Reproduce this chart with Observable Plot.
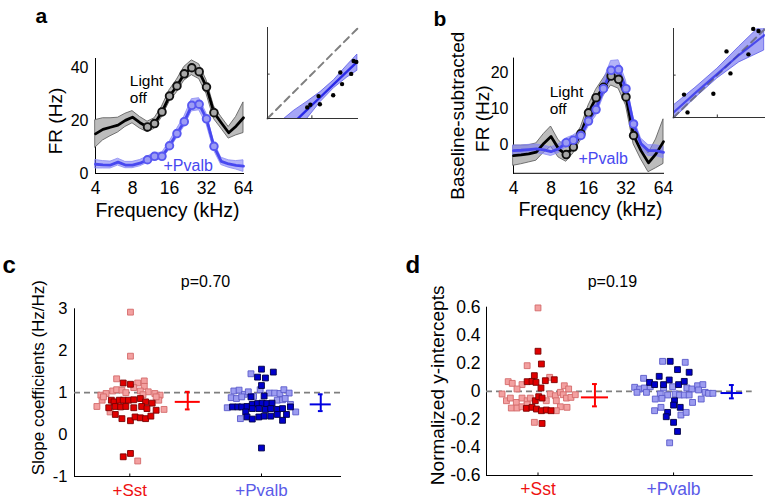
<!DOCTYPE html>
<html><head><meta charset="utf-8">
<script src="https://cdn.jsdelivr.net/npm/d3@7"></script>
<script src="https://cdn.jsdelivr.net/npm/@observablehq/plot@0.6"></script>
<style>
body{margin:0;background:#fff;}
#wrap{position:relative;width:765px;height:502px;overflow:hidden;background:#fff;}
.p{position:absolute;}
.big-x [aria-label="x-axis tick label"] text, .big-x [aria-label="x-axis"] text {font-size:17.5px;}
</style></head><body><div id="wrap"></div>
<script>
// ---------- data ----------
const freqs = [4, 4.6, 5.3, 6.1, 7.0, 8.0, 9.2, 10.6, 12.1, 13.9, 16, 18.4, 21.1, 24.3, 27.9, 32, 36.8, 42.2, 48.5, 55.7, 64];
const freqTicks = [4, 8, 16, 32, 64];
const markerFrom = 7, markerTo = 16;

// panel a (FR, Hz)
const aOff   = [15.0, 16.7, 17.5, 18.3, 20.1, 21.3, 19.2, 17.6, 18.9, 23.3, 29.3, 33.1, 37.7, 40.0, 38.5, 32.7, 23.0, 19.2, 15.4, 17.9, 21.1];
const aOffSe = [5.2, 4.2, 3.4, 2.8, 2.5, 2.3, 2.2, 2.0, 2.0, 2.0, 2.2, 2.4, 2.6, 2.8, 2.8, 2.6, 2.4, 2.2, 2.2, 3.5, 5.8];
const aPv    = [3.5, 3.3, 3.2, 4.3, 3.2, 3.2, 3.9, 5.2, 6.5, 6.5, 10.5, 15.1, 19.6, 25.8, 26.2, 20.7, 10.3, 4.6, 3.6, 3.1, 2.8];
const aPvSe  = [1.6, 1.4, 1.3, 1.3, 1.2, 1.2, 1.2, 1.2, 1.3, 1.3, 1.5, 1.7, 1.9, 2.3, 2.3, 2.0, 1.6, 1.4, 1.4, 1.6, 2.2];

// panel b (baseline-subtracted FR, Hz)
const bOff   = [-3.1, -2.9, -2.6, -2.1, 0.3, 2.2, -1.2, -2.8, -0.7, 3.0, 8.8, 13.0, 15.9, 19.0, 18.1, 13.2, 2.5, -1.7, -5.1, -2.6, 0.8];
const bOffSe = [2.8, 2.6, 2.4, 2.4, 2.6, 2.8, 2.4, 2.0, 1.8, 1.8, 2.0, 2.2, 2.4, 2.6, 2.6, 2.4, 2.4, 2.4, 2.6, 4.0, 6.2];
const bPv    = [-1.7, -1.6, -1.4, -1.2, -1.5, -2.0, -1.2, 0.5, 1.2, 2.5, 6.5, 9.7, 15.5, 20.6, 20.8, 15.5, 5.7, 0.2, -1.7, -1.7, -2.2];
const bPvSe  = [1.4, 1.3, 1.3, 1.2, 1.2, 1.2, 1.2, 1.2, 1.3, 1.4, 1.6, 1.8, 2.2, 2.6, 2.6, 2.2, 1.8, 1.5, 1.5, 1.5, 1.6];

// inset a: light off (x) vs +Pvalb (y)
const insAx = [17.9, 19.3, 23.0, 23.6, 29.6, 32.8, 33.6, 37.7, 38.8, 40.0];
const insAy = [5.0, 6.2, 10.1, 6.4, 10.5, 20.7, 15.5, 20.1, 25.9, 25.5];
const insAfitX  = [7, 12, 18, 24, 30, 36, 40.5];
const insAfitY  = [-6.5, -1.7, 4.1, 9.8, 15.6, 21.3, 25.6];
const insAfitLo = [-14, -7, 0.0, 7.5, 13.7, 18.5, 21.5];
const insAfitHi = [-0.6, 3.5, 7.6, 12.0, 17.3, 24.0, 28.8];
const insAdomain = [0, 41];
const insAtick = [20];

// inset b
const insBx = [2.4, 3.2, 9.1, 12.1, 13.0, 17.1, 18.2, 19.4];
const insBy = [5.4, 1.2, 5.6, 15.6, 10.4, 14.9, 20.9, 20.4];
const insBfitX  = [0, 5, 10, 15, 20.7];
const insBfitY  = [1.2, 5.8, 10.3, 14.8, 19.4];
const insBfitLo = [-0.4, 4.6, 9.2, 13.0, 15.8];
const insBfitHi = [2.8, 7.0, 11.5, 16.7, 22.4];
const insBdomain = [0, 21];
const insBtick = [10];

// panels c, d: categories
const categories = ["+Sst", "+Pvalb"];
const catPos = [1, 2];
const catColors = ["#ee1111", "#5a5ae8"];

// panel c: slope coefficients [jitter, value]
const cSstLight = [[0.005,2.92],[0.005,1.87],[-0.10,1.33],[0.06,1.23],[0.11,1.28],[0.11,1.15],[-0.22,0.94],[-0.18,0.98],[-0.13,1.04],[-0.10,1.07],[-0.06,1.06],[0.03,1.12],[0.08,1.04],[0.14,1.02],[0.19,0.98],[0.23,0.94],[-0.25,0.67],[-0.21,0.82],[0.22,0.82],[0.26,0.60],[-0.15,0.54],[0.06,-0.63],[-0.20,0.90],[0.20,0.90],[-0.03,1.00],[0.10,0.95]];
const cSstDark = [[-0.05,1.23],[0.005,1.20],[-0.14,0.82],[-0.12,0.78],[-0.08,0.82],[-0.05,0.82],[-0.01,0.82],[0.03,0.83],[0.08,0.86],[0.12,0.78],[0.17,0.75],[-0.16,0.64],[-0.11,0.67],[-0.07,0.66],[-0.03,0.67],[0.03,0.64],[0.09,0.67],[0.13,0.62],[0.20,0.58],[-0.11,0.48],[-0.06,0.38],[0.005,0.33],[0.04,0.42],[0.08,0.40],[0.12,0.38],[0.16,0.44],[-0.05,-0.53],[0.005,-0.45]];
const cPvLight = [[-0.08,1.45],[-0.21,1.04],[-0.17,1.06],[-0.13,0.96],[-0.10,1.02],[-0.01,1.07],[0.06,0.99],[0.10,0.99],[0.14,0.98],[0.17,1.07],[0.21,0.99],[-0.23,0.88],[-0.19,0.86],[-0.15,0.90],[-0.06,0.91],[0.12,0.82],[0.16,0.83],[0.18,0.86],[0.22,0.72],[-0.26,0.64],[0.26,0.54],[-0.16,0.38]];
const cPvDark = [[0,1.56],[-0.03,1.37],[0.03,1.35],[0.09,1.49],[0,1.17],[0.02,0.92],[-0.08,0.90],[-0.22,0.66],[-0.18,0.66],[-0.15,0.66],[-0.11,0.67],[-0.07,0.72],[-0.03,0.74],[0.005,0.75],[0.04,0.74],[0.08,0.75],[-0.12,0.54],[-0.07,0.62],[-0.02,0.62],[0.03,0.60],[0.07,0.62],[0.12,0.60],[0.16,0.62],[0.22,0.66],[-0.11,0.42],[-0.07,0.37],[-0.02,0.42],[0.02,0.44],[0.07,0.44],[0.12,0.48],[0.16,0.34],[0.19,0.48],[0,-0.32]];
const cErr = [{cat:0, off:0.44, half:0.095, mean:0.78, lo:0.60, hi:1.02},{cat:1, off:0.45, half:0.08, mean:0.72, lo:0.56, hi:0.96}];
const cTicks = [-1, 0, 1, 2, 3];
const cRef = [1];

// panel d: normalized y-intercepts [jitter, value]
const dSstLight = [[0,0.595],[-0.08,0.183],[0.086,0.10],[-0.22,0.069],[-0.19,0.057],[-0.118,0.048],[-0.155,0.017],[0.194,0.040],[0.226,0.017],[-0.265,-0.019],[-0.233,-0.067],[-0.204,-0.048],[-0.16,-0.079],[-0.118,-0.048],[-0.08,-0.067],[-0.057,-0.048],[0.061,-0.067],[0.09,-0.019],[0.128,-0.031],[0.135,-0.067],[0.165,-0.007],[0.186,-0.024],[0.21,-0.048],[0.243,-0.043],[0.275,-0.024],[0.165,-0.11],[0.214,-0.114],[-0.197,-0.119],[-0.155,-0.119],[-0.118,-0.11],[-0.08,-0.095],[0.135,-0.138],[-0.027,-0.221]];
const dSstDark = [[0,0.286],[0.025,0.195],[-0.027,0.112],[0.12,0.083],[0.054,0.076],[-0.08,0.069],[-0.044,0.071],[-0.015,0.064],[0.022,0.024],[-0.02,-0.067],[0.005,-0.038],[0.03,-0.048],[-0.086,-0.121],[-0.044,-0.114],[-0.012,-0.126],[0.025,-0.138],[0.061,-0.133],[0.096,-0.138],[0.03,-0.229]];
const dPvLight = [[-0.081,0.214],[0.086,0.207],[-0.221,0.093],[-0.287,0.029],[-0.25,0.017],[-0.216,0.024],[-0.27,-0.007],[-0.2,-0.007],[-0.172,0.033],[-0.074,0.024],[-0.007,0.033],[0.098,0.024],[0.135,0.017],[0.177,0.040],[0.216,0.048],[0.184,0.01],[0.233,-0.007],[0.258,-0.014],[0.29,-0.014],[-0.098,-0.019],[-0.044,-0.026],[0.012,-0.019],[0.044,-0.026],[0.079,-0.026],[0.115,-0.026],[-0.135,-0.055],[-0.086,-0.05],[0.204,-0.055],[0.14,-0.079],[-0.14,-0.138],[-0.093,-0.114],[0.054,-0.169],[0.093,-0.15],[-0.029,-0.367]];
const dPvDark = [[-0.025,0.214],[0.029,0.155],[0.115,0.136],[-0.106,0.107],[-0.032,0.081],[-0.177,0.064],[-0.14,0.048],[-0.074,0.048],[0.037,0.048],[0.079,0.071],[0.007,-0.067],[0,-0.098],[0.049,-0.114],[-0.044,-0.15],[-0.054,-0.181],[0,-0.221],[0.029,-0.286]];
const dErr = [{cat:0, off:0.42, half:0.10, mean:-0.043, lo:-0.107, hi:0.052},{cat:1, off:0.43, half:0.08, mean:-0.012, lo:-0.05, hi:0.045}];
const dTicks = [-0.6, -0.4, -0.2, 0, 0.2, 0.4, 0.6];
const dRef = [0];

// ---------- helpers ----------
const FONT = "Liberation Sans, Arial, Helvetica, sans-serif";
const wrap = document.getElementById("wrap");
function place(svg, left, top, w, cls) {
  const d = document.createElement("div");
  d.className = "p" + (cls ? " " + cls : ""); d.style.left = left + "px"; d.style.top = top + "px"; d.style.width = w + "px";
  d.appendChild(svg); wrap.appendChild(d);
}
function style(fs) { return {background: "transparent", fontFamily: FONT, fontSize: fs + "px", color: "#000", overflow: "visible"}; }
function note(s, o) { return Plot.text([s], {text: d => d, lineAnchor: "bottom", fill: "#000", ...o}); }

const BLACK_BAND = "#bcbcbc", BLUE = "#4848f0";

function curveRows(off, offSe, pv, pvSe) {
  return freqs.map((f, i) => ({f, off: off[i], offLo: off[i] - offSe[i], offHi: off[i] + offSe[i],
    pv: pv[i], pvLo: pv[i] - pvSe[i], pvHi: pv[i] + pvSe[i], mark: i >= markerFrom && i <= markerTo}));
}
function curveMarks(rows) {
  const m = rows.filter(d => d.mark);
  return [
    Plot.areaY(rows, {x: "f", y1: "offLo", y2: "offHi", fill: BLACK_BAND, stroke: "#555", strokeWidth: 0.8}),
    Plot.areaY(rows, {x: "f", y1: "pvLo", y2: "pvHi", fill: "#7676f2", fillOpacity: 0.55, stroke: "#8a8af4", strokeWidth: 0.8}),
    Plot.line(rows, {x: "f", y: "off", stroke: "#000", strokeWidth: 2.8}),
    Plot.line(rows, {x: "f", y: "pv", stroke: BLUE, strokeWidth: 2.8}),
    Plot.dot(m, {x: "f", y: "off", r: 3.8, stroke: "#111", strokeWidth: 1.9, fill: "#a8a8a8"}),
    Plot.dot(m, {x: "f", y: "pv", r: 3.8, stroke: "#5858f2", strokeWidth: 1.9, fill: "#9c9cf4"})
  ];
}

// ---------- panel a ----------
const rowsA = curveRows(aOff, aOffSe, aPv, aPvSe);
place(Plot.plot({
  width: 255, height: 230, marginLeft: 95, marginRight: 12, marginTop: 58, marginBottom: 57,
  style: style(16),
  x: {type: "log", base: 2, domain: [4, 64], ticks: freqTicks, tickFormat: d => String(d), tickSize: 0, tickPadding: 8, line: true, label: null},
  y: {domain: [0, 43.5], ticks: [0, 20, 40], tickFormat: d => String(d), tickSize: 0, tickPadding: 7, line: true, label: null},
  marks: [
    ...curveMarks(rowsA),
    Plot.text(["Light", "off"], {x: [7.6, 7.6], y: [33, 26.6], text: d => d, textAnchor: "start", lineAnchor: "bottom", fontSize: 15.5, fill: "#000"}),
    Plot.text(["+Pvalb"], {x: [14.3], y: [0.9], text: d => d, textAnchor: "start", lineAnchor: "bottom", fontSize: 16, fill: BLUE}),
    note("a", {frameAnchor: "top-left", dx: -60, dy: -36, textAnchor: "start", fontWeight: "bold", fontSize: 21}),
    note("FR (Hz)", {frameAnchor: "left", dx: -40, dy: 5, rotate: -90, textAnchor: "middle", lineAnchor: "middle", fontSize: 19}),
    note("Frequency (kHz)", {frameAnchor: "bottom", dx: -2, dy: 43, textAnchor: "middle", fontSize: 19.5})
  ]
}), 0, 0, 255, "big-x");

// ---------- inset a ----------
const insArows = insAx.map((x, i) => ({x, y: insAy[i]}));
const insAfit = insAfitX.map((x, i) => ({x, y: insAfitY[i], lo: insAfitLo[i], hi: insAfitHi[i]}));
place(Plot.plot({
  width: 115, height: 130, marginLeft: 12, marginRight: 12, marginTop: 27, marginBottom: 12,
  style: style(10),
  x: {domain: insAdomain, axis: null},
  y: {domain: insAdomain, axis: null},
  marks: [
    Plot.areaY(insAfit, {x: "x", y1: "lo", y2: "hi", fill: "#6a6af0", fillOpacity: 0.6, stroke: "#5a5ae8", strokeWidth: 0.8, clip: true}),
    Plot.line(insAfit, {x: "x", y: "y", stroke: "#2a2ae8", strokeWidth: 2.4, clip: true}),
    Plot.line(insAdomain.map(v => ({v})), {x: "v", y: "v", stroke: "#7f7f7f", strokeWidth: 2, strokeDasharray: "7,5"}),
    Plot.dot(insArows, {x: "x", y: "y", r: 2.2, fill: "#000"}),
    Plot.ruleX([insAdomain[0]], {stroke: "#333"}),
    Plot.ruleY([insAdomain[0]], {stroke: "#333"}),
    Plot.ruleX(insAtick, {y1: insAdomain[0], y2: insAdomain[0] + 1.2, stroke: "#333"}),
    Plot.ruleY(insAtick, {x1: insAdomain[0], x2: insAdomain[0] + 1.2, stroke: "#333"})
  ]
}), 255, 0, 115);

// ---------- panel b ----------
const rowsB = curveRows(bOff, bOffSe, bPv, bPvSe);
place(Plot.plot({
  width: 290, height: 230, marginLeft: 133, marginRight: 7, marginTop: 57.6, marginBottom: 57.2,
  style: style(16),
  x: {type: "log", base: 2, domain: [4, 64], ticks: freqTicks, tickFormat: d => String(d), tickSize: 0, tickPadding: 8, line: true, label: null},
  y: {domain: [-8, 24], ticks: [0, 10, 20], tickFormat: d => String(d), tickSize: 0, tickPadding: 5, line: true, label: null},
  marks: [
    ...curveMarks(rowsB),
    Plot.text(["Light", "off"], {x: [7.8, 7.8], y: [13.3, 8.6], text: d => d, textAnchor: "start", lineAnchor: "bottom", fontSize: 15.5, fill: "#000"}),
    Plot.text(["+Pvalb"], {x: [13.3], y: [-5.3], text: d => d, textAnchor: "start", lineAnchor: "bottom", fontSize: 16, fill: BLUE}),
    note("b", {frameAnchor: "top-left", dx: -80, dy: -31.6, textAnchor: "start", fontWeight: "bold", fontSize: 21}),
    note("Baseline-subtracted", {frameAnchor: "left", dx: -56, dy: 0, rotate: -90, textAnchor: "middle", lineAnchor: "middle", fontSize: 19}),
    note("FR (Hz)", {frameAnchor: "left", dx: -31, dy: 3, rotate: -90, textAnchor: "middle", lineAnchor: "middle", fontSize: 19}),
    note("Frequency (kHz)", {frameAnchor: "bottom", dx: 2, dy: 43, textAnchor: "middle", fontSize: 19.5})
  ]
}), 380, 0, 290, "big-x");

// ---------- inset b ----------
const insBrows = insBx.map((x, i) => ({x, y: insBy[i]}));
const insBfit = insBfitX.map((x, i) => ({x, y: insBfitY[i], lo: insBfitLo[i], hi: insBfitHi[i]}));
place(Plot.plot({
  width: 105, height: 130, marginLeft: 13, marginRight: 0, marginTop: 28, marginBottom: 13,
  style: style(10),
  x: {domain: insBdomain, axis: null},
  y: {domain: insBdomain, axis: null},
  marks: [
    Plot.areaY(insBfit, {x: "x", y1: "lo", y2: "hi", fill: "#6a6af0", fillOpacity: 0.6, stroke: "#5a5ae8", strokeWidth: 0.8, clip: true}),
    Plot.line(insBdomain.map(v => ({v})), {x: "v", y: "v", stroke: "#6f6f8f", strokeWidth: 2, strokeDasharray: "7,5"}),
    Plot.line(insBfit, {x: "x", y: "y", stroke: "#2a2ae8", strokeWidth: 2.2, strokeOpacity: 0.75, clip: true}),
    Plot.dot(insBrows, {x: "x", y: "y", r: 2.2, fill: "#000"}),
    Plot.ruleX([insBdomain[0]], {stroke: "#333"}),
    Plot.ruleY([insBdomain[0]], {stroke: "#333"}),
    Plot.ruleX(insBtick, {y1: insBdomain[0], y2: insBdomain[0] + 0.6, stroke: "#333"}),
    Plot.ruleY(insBtick, {x1: insBdomain[0], x2: insBdomain[0] + 0.6, stroke: "#333"})
  ]
}), 660, 0, 105);

// ---------- scatter panels ----------
function pts(arr, cat) { return arr.map(([j, v]) => ({x: catPos[cat] + j, y: v})); }
function scatterMarks(sl, sd, pl, pd, err, yDom, ref, labelFs) {
  const sq = {x: "x", y: "y", symbol: "square", r: 3.3, strokeWidth: 0.9};
  const errColors = ["#ff0000", "#0000e0"];
  const er = err.map(e => ({...e, xc: catPos[e.cat] + e.off, color: errColors[e.cat]}));
  return [
    Plot.ruleY(ref, {stroke: "#7f7f7f", strokeWidth: 1.8, strokeDasharray: "6,4"}),
    Plot.dot(pts(sl, 0), {...sq, fill: "#f3a0a0", stroke: "#d46a6a"}),
    Plot.dot(pts(sd, 0), {...sq, fill: "#e00000", stroke: "#7a0000"}),
    Plot.dot(pts(pl, 1), {...sq, fill: "#9c9cf0", stroke: "#5a5acb"}),
    Plot.dot(pts(pd, 1), {...sq, fill: "#0000cc", stroke: "#000044"}),
    Plot.ruleX(er, {x: "xc", y1: "lo", y2: "hi", stroke: "color", strokeWidth: 2}),
    Plot.ruleY(er, {y: "mean", x1: d => d.xc - d.half, x2: d => d.xc + d.half, stroke: "color", strokeWidth: 2}),
    Plot.ruleY(er, {y: "lo", x1: d => d.xc - 0.018, x2: d => d.xc + 0.018, stroke: "color", strokeWidth: 2}),
    Plot.ruleY(er, {y: "hi", x1: d => d.xc - 0.018, x2: d => d.xc + 0.018, stroke: "color", strokeWidth: 2}),
    Plot.ruleX(catPos, {y1: yDom[0], y2: yDom[0] + (yDom[1] - yDom[0]) * 0.015, stroke: "#000"}),
    Plot.text(categories, {x: catPos, frameAnchor: "bottom", dy: 19.5, text: d => d, fill: catColors, lineAnchor: "bottom", textAnchor: "middle", fontSize: labelFs})
  ];
}

// panel c
const cDom = [cTicks[0], cTicks[cTicks.length - 1]];
place(Plot.plot({
  width: 380, height: 262, marginLeft: 74, marginRight: 40, marginTop: 68.3, marginBottom: 26,
  style: style(16.5),
  x: {domain: [0.58, 2.6], ticks: [], tickSize: 0, line: true, label: null},
  y: {domain: cDom, ticks: cTicks, tickFormat: d => String(d), tickSize: 0, tickPadding: 7, line: true, label: null},
  marks: [
    ...scatterMarks(cSstLight, cSstDark, cPvLight, cPvDark, cErr, cDom, cRef, 17),
    note("c", {frameAnchor: "top-left", dx: -72, dy: -36.3, textAnchor: "start", fontWeight: "bold", fontSize: 24}),
    note("p=0.70", {frameAnchor: "top", dx: -2, dy: -22.3, textAnchor: "middle", fontSize: 16}),
    note("Slope coefficients (Hz/Hz)", {frameAnchor: "left", dx: -36, dy: -15, rotate: -90, textAnchor: "middle", lineAnchor: "middle", fontSize: 17})
  ]
}), 0, 240, 380);

// panel d
const dDom = [dTicks[0], dTicks[dTicks.length - 1]];
place(Plot.plot({
  width: 385, height: 262, marginLeft: 106, marginRight: 13.3, marginTop: 66.7, marginBottom: 27,
  style: style(17.5),
  x: {domain: [0.62, 2.58], ticks: [], tickSize: 0, line: true, label: null},
  y: {domain: dDom, ticks: dTicks, tickFormat: d => (d === 0 ? "0" : d.toFixed(1)), tickSize: 0, tickPadding: 6, line: true, label: null},
  marks: [
    ...scatterMarks(dSstLight, dSstDark, dPvLight, dPvDark, dErr, dDom, dRef, 17.5),
    note("d", {frameAnchor: "top-left", dx: -81, dy: -34.7, textAnchor: "start", fontWeight: "bold", fontSize: 24}),
    note("p=0.19", {frameAnchor: "top", dx: -7, dy: -20.7, textAnchor: "middle", fontSize: 16}),
    note("Normalized y-intercepts", {frameAnchor: "left", dx: -49, dy: -6, rotate: -90, textAnchor: "middle", lineAnchor: "middle", fontSize: 19})
  ]
}), 380, 240, 385);
</script></body></html>
